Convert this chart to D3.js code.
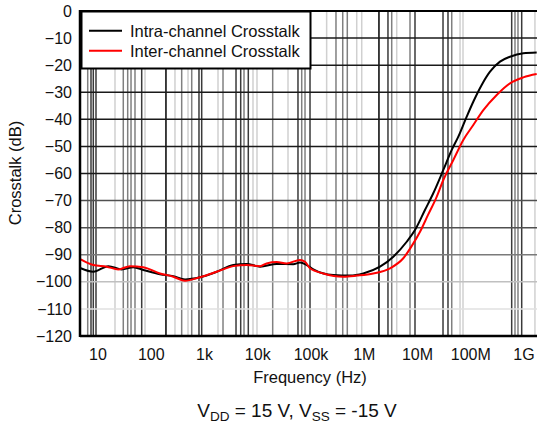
<!DOCTYPE html>
<html><head><meta charset="utf-8">
<script src="https://cdn.jsdelivr.net/npm/d3@7"></script>
<style>
html,body{margin:0;padding:0;background:#fff;}
svg{display:block;font-family:"Liberation Sans",Arial,sans-serif;}
</style></head>
<body><svg id="c" width="537" height="426"></svg>
<script>
// ---- data ----
const intraFreq = [4.84,8.34,16.0,28.5,47,72.4,149,265,440,841,1732,3550,6340,11300,23200,47500,63500,84900,113000,268000,552000,981000,2.02e6,3.59e6,6.41e6,9.17e6,1.41e7,2.02e7,3.12e7,4.49e7,5.97e7,8.58e7,1.14e8,1.64e8,2.35e8,3.62e8,5.58e8,9.91e8,1.77e9];
const intraDb   = [-95.0,-96.3,-94.2,-95.4,-94.6,-95.6,-97.2,-97.9,-99.1,-98.3,-96.3,-93.8,-93.4,-94.4,-93.4,-93.5,-92.9,-93.8,-95.4,-97.5,-97.7,-96.9,-94.4,-90.7,-85.2,-80.9,-73.5,-67.3,-58.7,-51.3,-46.4,-39.0,-33.5,-27.3,-22.4,-18.7,-16.9,-15.6,-15.3];
const interFreq = [4.84,8.34,14.9,24.6,40.7,72.4,149,265,440,841,1732,3550,6340,11300,15000,23200,35700,63500,78900,97900,174000,413000,738000,1.51e6,3.11e6,5.53e6,8.53e6,1.14e7,1.61e7,2.34e7,3.12e7,4.81e7,7.40e7,1.14e8,1.76e8,3.14e8,5.58e8,9.91e8,1.77e9];
const interDb   = [-91.7,-93.8,-94.4,-95.4,-94.2,-94.6,-96.9,-98.1,-99.6,-98.3,-96.3,-94.2,-93.8,-94.2,-93.2,-92.7,-93.2,-91.9,-92.6,-95.0,-96.9,-98.1,-97.7,-96.9,-95.0,-91.3,-85.8,-81.5,-75.3,-68.6,-62.4,-55.0,-47.6,-42.1,-36.6,-31.0,-26.7,-24.5,-23.3];
const seriesNames = ["Intra-channel Crosstalk","Inter-channel Crosstalk"];
const xTickValues = [10,100,1e3,1e4,1e5,1e6,1e7,1e8,1e9];
const xTickLabels = ["10","100","1k","10k","100k","1M","10M","100M","1G"];
const yTickValues = [0,-10,-20,-30,-40,-50,-60,-70,-80,-90,-100,-110,-120];
// irregular vertical grid of the original (frequencies) and their shade level
const vGridFreq  = [6.55,7.55,8.34,9.37,21.3,30.5,36.9,42.6,50.6,67.6,78.0,193,285,381,501,588,805,905,1832,2275,3993,4890,5640,6790,8320,9890,19500,37800,58200,68400,78900,97900,201000,301000,403000,491000,738000,916000,1.93e6,2.85e6,3.35e6,4.16e6,7.39e6,9.17e6,3.08e7,3.82e7,4.49e7,6.43e7,7.31e7,6.0e8,6.92e8,7.88e8,9.25e8,1.64e9];
const vGridLevel = [2,1,1,1,3,2,2,2,2,1,3,0,3,2,3,2,1,1,3,2,1,1,2,1,3,3,2,3,1,2,2,1,3,2,2,2,3,3,0,1,2,3,2,1,1,1,2,3,3,1,2,2,1,3];
const xLabel = "Frequency (Hz)";
const yLabel = "Crosstalk (dB)";

// ---- drawing ----
const svg = d3.select("#c");
const L = 80, T = 11, R = 545, B = 336;
const x = d3.scaleLog().domain([10,1e9]).range([97.5,523.5]);
const y = d3.scaleLinear().domain([0,-120]).range([T,B]);
const shades = ["#000","#3a3a3a","#808080","#d0d0d0"];
const hShade = d => d===0||d===-120 ? null : (d>=-60 ? "#1a1a1a" : d>=-80 ? "#505050" : d===-90 ? "#7a7a7a" : d===-100 ? "#c0c0c0" : "#e0e0e0");

svg.append("clipPath").attr("id","pc").append("rect").attr("x",L).attr("y",T).attr("width",R-L).attr("height",B-T);
const g = svg.append("g").attr("clip-path","url(#pc)");

g.selectAll("line.v").data(vGridFreq).join("line").attr("class","v")
  .attr("x1",d=>x(d)).attr("x2",d=>x(d)).attr("y1",T).attr("y2",B)
  .attr("stroke",(d,i)=>shades[vGridLevel[i]]).attr("stroke-width",1.5);

g.selectAll("line.h").data(yTickValues.filter(d=>hShade(d))).join("line").attr("class","h")
  .attr("x1",L).attr("x2",R).attr("y1",d=>y(d)).attr("y2",d=>y(d))
  .attr("stroke",d=>hShade(d)).attr("stroke-width",1.5);

const line = d3.line().x(d=>x(d[0])).y(d=>y(d[1])).curve(d3.curveMonotoneX);
g.append("path").datum(d3.zip(intraFreq,intraDb)).attr("d",line)
  .attr("fill","none").attr("stroke","#000").attr("stroke-width",2);
g.append("path").datum(d3.zip(interFreq,interDb)).attr("d",line)
  .attr("fill","none").attr("stroke","#f00").attr("stroke-width",2);

// frame
svg.append("line").attr("x1",L).attr("x2",R).attr("y1",T).attr("y2",T).attr("stroke","#000").attr("stroke-width",2);
svg.append("line").attr("x1",L).attr("x2",R).attr("y1",B).attr("y2",B).attr("stroke","#000").attr("stroke-width",2.5);
svg.append("line").attr("x1",L).attr("x2",L).attr("y1",T-1).attr("y2",B+1).attr("stroke","#000").attr("stroke-width",2.5);

// axes
const yAxis = d3.axisLeft(y).tickValues(yTickValues).tickSize(0).tickPadding(8).tickFormat(d=>d3.format("d")(d));
const ya = svg.append("g").attr("transform",`translate(${L},0)`).call(yAxis);
ya.select(".domain").remove();
ya.selectAll("text").attr("font-size",16).attr("font-family","Liberation Sans, Arial, sans-serif").attr("fill","#111");

const xAxis = d3.axisBottom(x).tickValues(xTickValues).tickSize(0).tickPadding(13).tickFormat((d,i)=>xTickLabels[i]);
const xa = svg.append("g").attr("transform",`translate(0,${B})`).call(xAxis);
xa.select(".domain").remove();
xa.selectAll("text").attr("font-size",16).attr("font-family","Liberation Sans, Arial, sans-serif").attr("fill","#111");

svg.append("text").attr("x",310).attr("y",383).attr("text-anchor","middle").attr("font-size",16.5).attr("fill","#111").text(xLabel);
svg.append("text").attr("transform","translate(21,173) rotate(-90)").attr("text-anchor","middle").attr("font-size",16.5).attr("fill","#111").text(yLabel);

// legend
const lg = svg.append("g");
lg.append("rect").attr("x",81.5).attr("y",11.5).attr("width",229).attr("height",57).attr("fill","#fff").attr("stroke","#000").attr("stroke-width",2);
const colors = ["#000","#f00"];
seriesNames.forEach((n,i)=>{
  const yy = 30.7 + i*20;
  lg.append("line").attr("x1",89).attr("x2",122).attr("y1",yy).attr("y2",yy).attr("stroke",colors[i]).attr("stroke-width",2);
  lg.append("text").attr("x",130).attr("y",yy+5.8).attr("font-size",16.5).attr("fill","#111").text(n);
});

// caption
const cap = svg.append("text").attr("x",297).attr("y",417).attr("text-anchor","middle").attr("font-size",19).attr("fill","#111");
cap.append("tspan").text("V");
cap.append("tspan").attr("font-size",13.5).attr("dy",3.5).text("DD");
cap.append("tspan").attr("dy",-3.5).text(" = 15 V, V");
cap.append("tspan").attr("font-size",13.5).attr("dy",3.5).text("SS");
cap.append("tspan").attr("dy",-3.5).text(" = -15 V");
</script></body></html>
